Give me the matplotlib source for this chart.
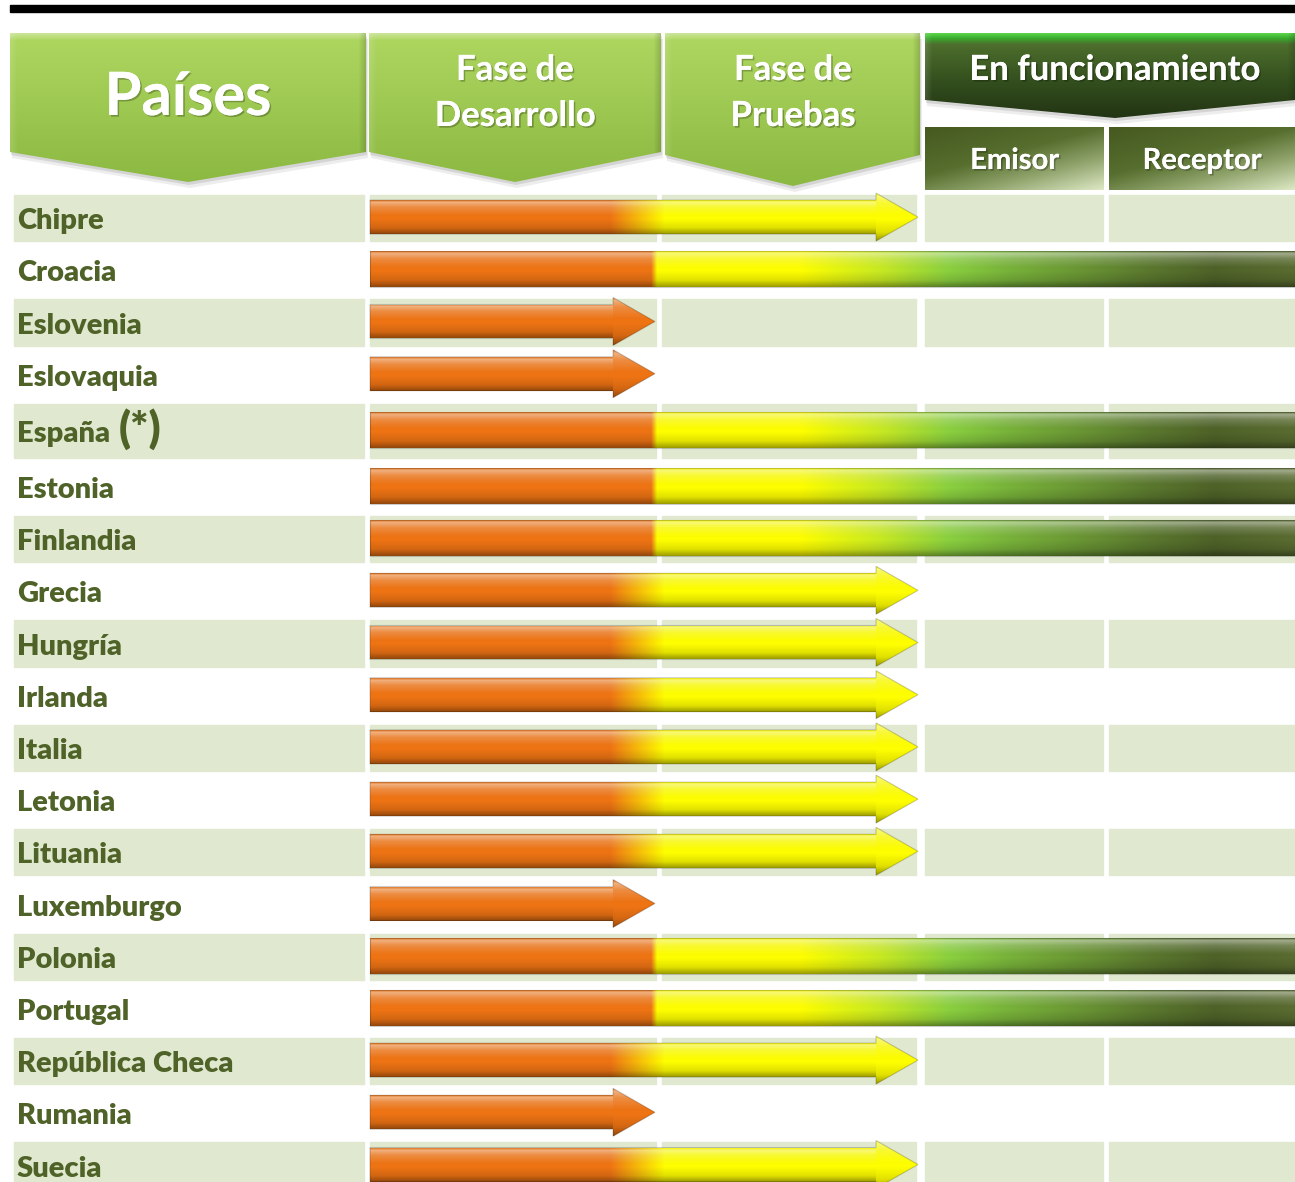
import numpy as np
import matplotlib
matplotlib.use("Agg")
import matplotlib.pyplot as plt
import matplotlib.colors as mcolors
import matplotlib.patheffects as pe
from matplotlib.patches import Polygon, Rectangle

countries = ["Chipre", "Croacia", "Eslovenia", "Eslovaquia", "España", "Estonia",
             "Finlandia", "Grecia", "Hungría", "Irlanda", "Italia", "Letonia",
             "Lituania", "Luxemburgo", "Polonia", "Portugal", "República Checa",
             "Rumania", "Suecia"]
# 1 = fase de desarrollo, 2 = fase de pruebas, 3 = en funcionamiento
stages = [2, 3, 1, 1, 3, 3, 3, 2, 2, 2, 2, 2, 2, 1, 3, 3, 2, 1, 2]
notes = {"España": "(*)"}
header_labels = ["Países", "Fase de\nDesarrollo", "Fase de\nPruebas", "En funcionamiento"]
sub_labels = ["Emisor", "Receptor"]

W, H = 1295, 1182
FONT = "Lato"
TEXT_GREEN = "#4f6228"
STRIPE = "#e0e9cf"
ORANGE = "#ef7414"
YELLOW = "#ffff00"

cols = [(14, 364), (370, 656), (662, 916), (925, 1103), (1109, 1295)]
bar_x0 = 370
stage_end = {1: 655, 2: 918, 3: W}

ramp_dev = [(0, ORANGE), (W, ORANGE)]
ramp_test = [(0, ORANGE), (610, ORANGE), (665, YELLOW), (W, YELLOW)]
ramp_live = [(0, ORANGE), (651, ORANGE), (657, YELLOW), (800, YELLOW), (880, "#c8ea22"),
             (950, "#8ad040"), (1010, "#78b23a"), (1080, "#6a9634"), (1150, "#5a782e"),
             (1215, "#4e6228"), (W, "#5a6c30")]
stage_ramp = {1: ramp_dev, 2: ramp_test, 3: ramp_live}


def rgb(c):
    return np.array(mcolors.to_rgb(c))


def ramp(stops, x):
    pos = [p for p, _ in stops]
    cs = np.array([rgb(c) for _, c in stops])
    return np.stack([np.interp(x, pos, cs[:, k]) for k in range(3)], axis=-1)


def paint(ax, verts, func, zorder=3):
    verts = np.asarray(verts, float)
    x0, y0 = verts.min(0)
    x1, y1 = verts.max(0)
    xs = np.linspace(x0, x1, int(np.ceil(x1 - x0)) + 1)
    ys = np.linspace(y0, y1, int(np.ceil(y1 - y0)) + 1)
    X, Y = np.meshgrid(xs, ys)
    img = np.clip(func(X, Y), 0, 1)
    im = ax.imshow(img, extent=(x0, x1, y1, y0), origin="upper",
                   interpolation="bilinear", zorder=zorder, aspect="auto")
    clip = Polygon(verts, closed=True, facecolor="none", edgecolor="none",
                   transform=ax.transData)
    ax.add_patch(clip)
    im.set_clip_path(clip)
    return im


def gloss(img, Y, top, bot):
    t = (Y - top) / (bot - top)
    white = np.interp(t, [0, 0.06, 0.2, 0.45, 1], [0.15, 0.45, 0.2, 0, 0])
    black = np.interp(t, [0, 0.55, 0.82, 1], [0.05, 0, 0.12, 0.38])
    img = img * (1 - black[..., None])
    return img + (1 - img) * white[..., None]


def bevel(img, X, Y, x0, x1, top, light=0.3):
    img = img + (1 - img) * (light * np.clip(1 - (Y - top) / 7, 0, 1))[..., None]
    img = img + (1 - img) * (0.12 * np.clip(1 - (X - x0) / 7, 0, 1))[..., None]
    img = img * (1 - 0.15 * np.clip(1 - (x1 - X) / 7, 0, 1))[..., None]
    return img


def shadow(ax, verts):
    for dx, dy, a in [(1, 3, 0.10), (2, 6, 0.07)]:
        v = np.asarray(verts, float) + [dx, dy]
        ax.add_patch(Polygon(v, closed=True, facecolor="black", edgecolor="none",
                             alpha=a, zorder=2))


row_h = np.full(len(countries), 52.2)
row_h[countries.index("España")] = 60
row_top = 192 + np.concatenate([[0], np.cumsum(row_h)[:-1]])
row_mid = row_top + row_h / 2

fig = plt.figure(figsize=(W / 100, H / 100), dpi=100)
ax = fig.add_axes([0, 0, 1, 1])
ax.set_xlim(0, W)
ax.set_ylim(H, 0)
ax.axis("off")

# black rule at the top
ax.add_patch(Rectangle((10, 5), W - 10, 7, color="black", zorder=2))

# header chevrons
light_heads = [
    [(10, 33), (366, 33), (366, 152), (188, 182), (10, 152)],
    [(369, 33), (661, 33), (661, 152), (515, 182), (369, 152)],
    [(665, 33), (920, 33), (920, 155), (793, 186), (665, 155)],
]
for verts in light_heads:
    shadow(ax, verts)
    xa, xb = verts[0][0], verts[1][0]
    bt = verts[3][1]
    paint(ax, verts, lambda X, Y: bevel(ramp([(33, "#aed760"), (bt, "#8cb942")], Y),
                                        X, Y, xa, xb, 33, 0.35))

dark_head = [(925, 33), (W, 33), (W, 100), (1115, 118), (925, 100)]
shadow(ax, dark_head)
paint(ax, dark_head, lambda X, Y: bevel(
    ramp([(33, "#58d648"), (38, "#3aa82e"), (44, "#4d6e2d"), (80, "#34501e"),
          (118, "#223414")], Y), X, Y, 925, W, 33, 0.0))

sub_boxes = [(925, 1104), (1109, W)]
for xa, xb in sub_boxes:
    verts = [(xa, 127), (xb, 127), (xb, 190), (xa, 190)]
    paint(ax, verts, lambda X, Y: ramp(
        [(0, "#465920"), (0.5, "#566e2e"), (0.8, "#8ea26a"), (1.15, "#dde8c4")],
        0.5 * (X - xa) / (xb - xa) + 0.65 * (Y - 127) / 63))

shade = [pe.withSimplePatchShadow(offset=(1.2, -1.2), shadow_rgbFace="black", alpha=0.25),
         pe.Normal()]
ax.text(188, 115, header_labels[0], fontsize=43, fontweight="bold", color="white",
        family=FONT, ha="center", va="baseline", zorder=6, path_effects=shade)
for label, cx in zip(header_labels[1:3], [515, 793]):
    for line, base in zip(label.split("\n"), [80, 126]):
        ax.text(cx, base, line, fontsize=25, fontweight="bold", color="white",
                family=FONT, ha="center", va="baseline", zorder=6, path_effects=shade)
ax.text(1115, 80, header_labels[3], fontsize=25, fontweight="bold", color="white",
        family=FONT, ha="center", va="baseline", zorder=6, path_effects=shade)
for label, (xa, xb) in zip(sub_labels, sub_boxes):
    ax.text((xa + xb) / 2, 169, label, fontsize=21, fontweight="bold", color="white",
            family=FONT, ha="center", va="baseline", zorder=6, path_effects=shade)

# striped rows
for i in range(0, len(countries), 2):
    for a, b in cols:
        ax.add_patch(Rectangle((a, row_top[i] + 3), b - a, row_h[i] - 6,
                               color=STRIPE, zorder=1))

# country labels
renderer = fig.canvas.get_renderer()
for name, mid in zip(countries, row_mid):
    t = ax.text(17, mid + 11, name, fontsize=21, fontweight="heavy", color=TEXT_GREEN,
                family=FONT, va="baseline", zorder=5)
    if name in notes:
        bb = t.get_window_extent(renderer).transformed(ax.transData.inverted())
        ax.text(bb.x1 + 9, mid + 12, notes[name], fontsize=31, fontweight="heavy",
                color=TEXT_GREEN, family=FONT, va="baseline", zorder=5)

# progress bars / arrows
for stage, mid in zip(stages, row_mid):
    cy = mid - 1
    x_end = stage_end[stage]
    stops = stage_ramp[stage]
    if stage == 3:
        top, bot = cy - 18, cy + 18
        verts = [(bar_x0, top), (x_end, top), (x_end, bot), (bar_x0, bot)]
        paint(ax, verts, lambda X, Y: gloss(ramp(stops, X), Y, top, bot))
        ax.add_patch(Polygon(verts, closed=True, facecolor="none",
                             edgecolor=(0, 0, 0, 0.2), lw=0.8, zorder=4))
    else:
        head = 42
        xb = x_end - head
        top, bot = cy - 17, cy + 17
        htop, hbot = cy - 24, cy + 24
        body = [(bar_x0, top), (xb + 1, top), (xb + 1, bot), (bar_x0, bot)]
        tri = [(xb, htop), (x_end, cy), (xb, hbot)]
        paint(ax, body, lambda X, Y: gloss(ramp(stops, X), Y, top, bot))
        paint(ax, tri, lambda X, Y: gloss(ramp(stops, X), Y, htop, hbot))
        outline = [(bar_x0, top), (xb, top), (xb, htop), (x_end, cy), (xb, hbot),
                   (xb, bot), (bar_x0, bot)]
        ax.add_patch(Polygon(outline, closed=True, facecolor="none",
                             edgecolor=(0, 0, 0, 0.2), lw=0.8, zorder=4))

ax.set_xlim(0, W)
ax.set_ylim(H, 0)
fig.savefig("out.png", dpi=100)
